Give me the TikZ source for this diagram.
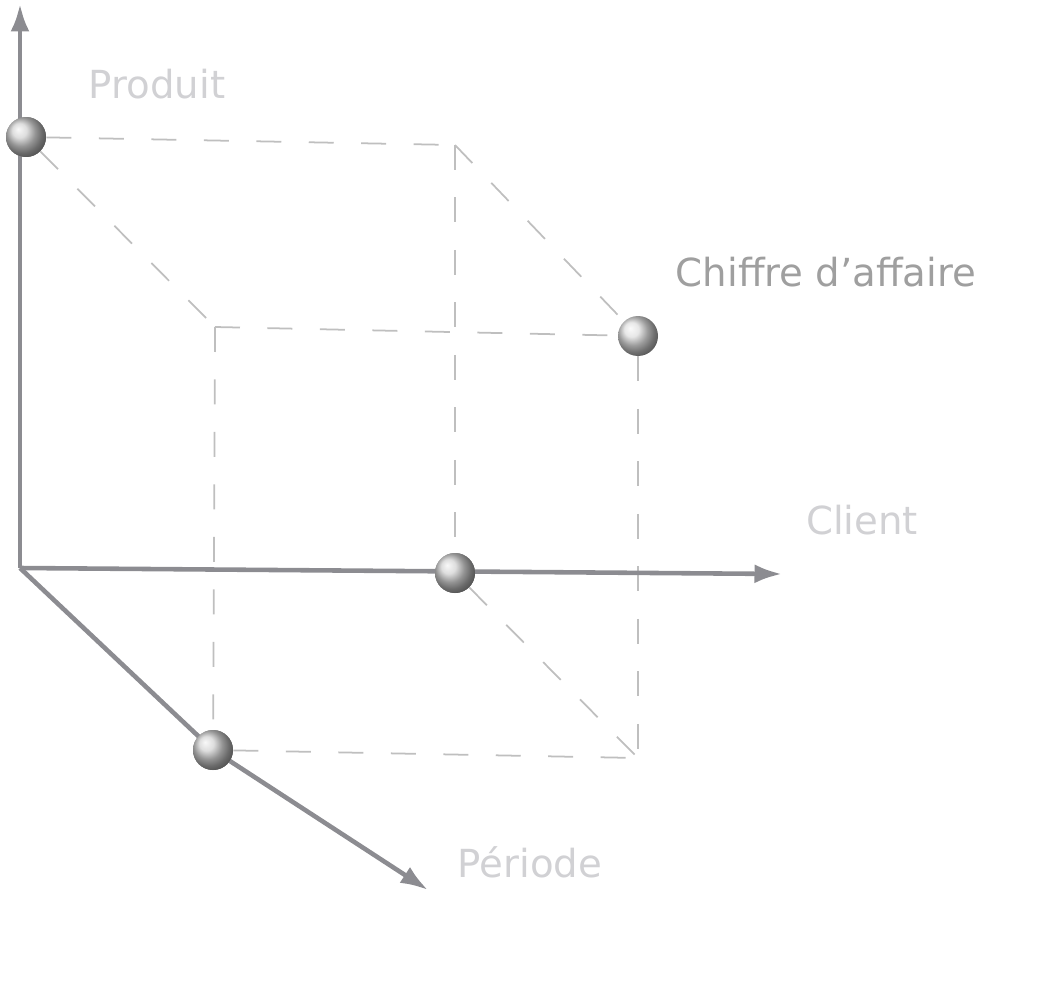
\documentclass[tikz,border=0pt]{standalone}
\usepackage{fontspec}
\setmainfont{DejaVu Sans}
\usetikzlibrary{arrows.meta}
\definecolor{axisgray}{rgb}{0.55, 0.55, 0.57}
\definecolor{labgray}{rgb}{0.82, 0.82, 0.83}
\tikzset{ball/.style = {circle, inner sep = 0, minimum size = 0.8cm, shading = ball, ball color = gray!35}}
\tikzset{axe/.style = {axisgray, line width = 2.6pt, line join = round, -{Latex[length=0.55cm, width=0.38cm]}}}
\tikzset{proj/.style = {gray!50, line width = 1pt, dash pattern = on 0.5cm off 0.55cm}}
\tikzset{lab/.style = {labgray, font = \fontsize{22}{26}\selectfont}}

\begin{document}
\begin{tikzpicture}[x=0.02cm, y=-0.02cm]
    \useasboundingbox (0, 0) rectangle (1037, 983);

    \coordinate (O) at (20, 568);
    \coordinate (zend) at (20, 4);
    \coordinate (xend) at (782, 574);
    \coordinate (yend) at (428, 890);
    \coordinate (topcorner) at (455, 145);
    \coordinate (backcorner) at (215, 327);
    \coordinate (floorcorner) at (638, 758);

    \node[ball] (produit) at (26, 137) {};
    \node[ball] (client) at (455, 573) {};
    \node[ball] (periode) at (213, 750) {};
    \node[ball, ball color = gray!25] (ca) at (638, 336) {};

    % projections
    \draw[proj] (produit) -- (topcorner);
    \draw[proj] (topcorner) -- (client);
    \draw[proj] (topcorner) -- (ca);
    \draw[proj] (produit) -- (backcorner);
    \draw[proj] (backcorner) -- (ca);
    \draw[proj] (backcorner) -- (periode);
    \draw[proj] (ca) -- (floorcorner);
    \draw[proj] (periode) -- (floorcorner);
    \draw[proj] (client) -- (floorcorner);

    % axes
    \draw[axe] (O) -- (zend);
    \draw[axe] (O) -- (xend);
    \draw[axe] (O) -- (periode.center) -- (yend);

    % redraw balls over the axes
    \node[ball] at (produit) {};
    \node[ball] at (client) {};
    \node[ball] at (periode) {};

    \node[lab] (lprod) at (157, 84) {Produit};
    \node[lab] (lcli) at (862, 520) {Client};
    \node[lab] (lper) at (530, 862) {Période};
    \node[lab, text = gray!75] (lca) at (826, 272) {Chiffre d'affaire};
\end{tikzpicture}
\end{document}
